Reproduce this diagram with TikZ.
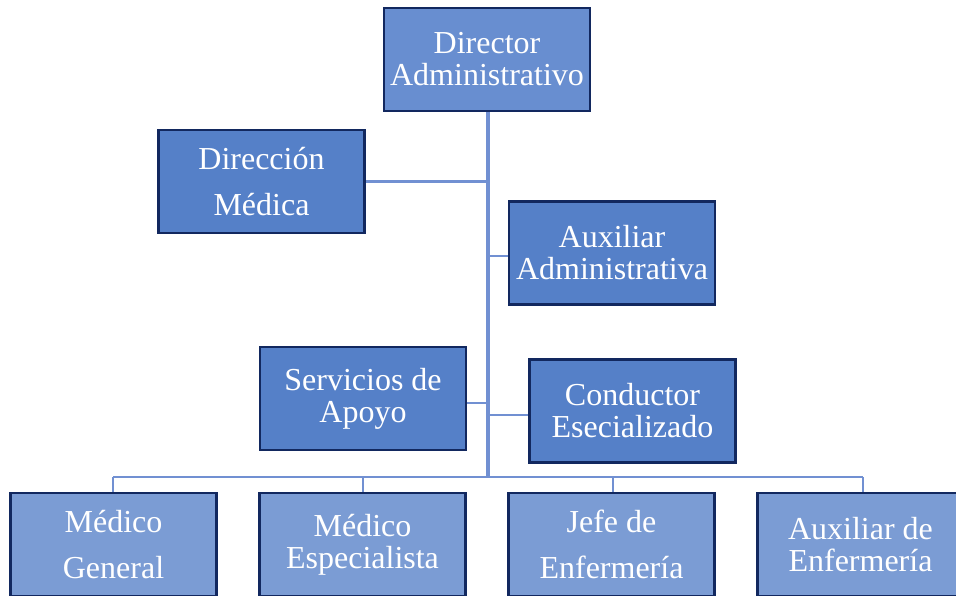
\documentclass[tikz,border=0pt]{standalone}
\usepackage{fontspec}
\setmainfont{Liberation Serif}
\definecolor{navy}{RGB}{18,40,95}
\definecolor{fillA}{RGB}{104,142,208}
\definecolor{fillB}{RGB}{85,128,200}
\definecolor{fillC}{RGB}{123,156,212}
\definecolor{linec}{RGB}{113,144,210}
\begin{document}
\begin{tikzpicture}[x=1pt,y=-1pt,
  box/.style={draw=navy, line width=2.6pt, text=white, align=center,
    minimum width=206pt, minimum height=103pt, inner sep=0pt,
    font=\fontsize{32}{32}\selectfont},
  wide/.style={font=\fontsize{32}{46}\selectfont},
  conn/.style={draw=linec, line width=2.5pt},
  trunk/.style={draw=linec, line width=4.5pt}]
\useasboundingbox (0,0) rectangle (956,595);
\clip (0,0) rectangle (956,595);
% boxes
\node[box, fill=fillA] (dir) at (487,59.5) {Director\\Administrativo};
\node[box, fill=fillB, wide] (dmed) at (261.5,181.5) {Dirección\\Médica};
\node[box, fill=fillB] (aux) at (612,253) {Auxiliar\\Administrativa};
\node[box, fill=fillB] (serv) at (363,398.5) {Servicios de\\Apoyo};
\node[box, fill=fillB] (cond) at (632.5,411) {Conductor\\Esecializado};
\node[box, fill=fillC, wide] (mg) at (113.5,544.5) {Médico\\General};
\node[box, fill=fillC] (me) at (362.5,544.5) {Médico\\Especialista};
\node[box, fill=fillC, wide] (je) at (611.5,544.5) {Jefe de\\Enfermería};
\node[box, fill=fillC] (ae) at (860.5,544.5) {Auxiliar de\\Enfermería};
% connector coordinates
\coordinate (tb) at (488,477);
\coordinate (bl) at (113,477);
\coordinate (br) at (863,477);
\coordinate (b2) at (363,477);
\coordinate (b3) at (613,477);
% connectors
\draw[trunk] (dir.south -| tb) -- (tb);
\draw[conn] (bl) -- (br);
\draw[conn] (bl) -- (bl |- mg.north);
\draw[conn] (b2) -- (b2 |- me.north);
\draw[conn] (b3) -- (b3 |- je.north);
\draw[conn] (br) -- (br |- ae.north);
\draw[conn] (dmed.east) -- (dmed.east -| tb);
\draw[conn] (tb |- aux.west) ++(0,3) -- ([yshift=-3pt]aux.west);
\draw[conn] (tb |- 0,403) -- (serv.east |- 0,403);
\draw[conn] (tb |- 0,415) -- (cond.west |- 0,415);
\end{tikzpicture}
\end{document}
